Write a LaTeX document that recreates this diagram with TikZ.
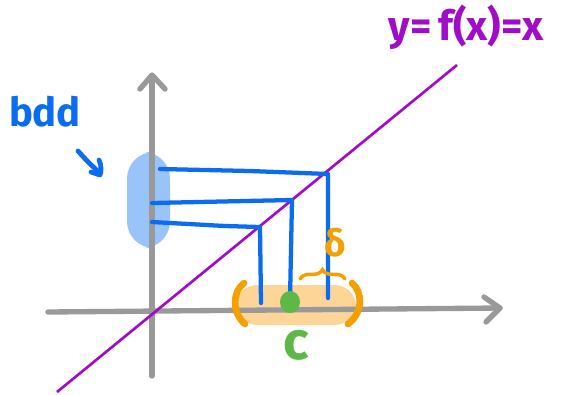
\documentclass[tikz,border=0pt]{standalone}
\usepackage{fontspec}
\setmainfont{Fira Sans}
\usetikzlibrary{decorations.pathreplacing}
\definecolor{axisgray}{HTML}{999999}
\definecolor{penblue}{HTML}{0A6CF0}
\definecolor{lightblue}{HTML}{99C4FA}
\definecolor{penpurple}{HTML}{A10CC8}
\definecolor{penorange}{HTML}{F5A000}
\definecolor{lightorange}{HTML}{FDD597}
\definecolor{pengreen}{HTML}{5DB848}
\tikzset{
  axisline/.style={axisgray, line width=4pt, line cap=round, line join=round},
  blueline/.style={penblue, line width=3.2pt, line cap=round, line join=round},
  lbl/.style={inner sep=0pt, font=\bfseries},
}
\begin{document}
\begin{tikzpicture}[x=0.75pt,y=-0.75pt]
\useasboundingbox (0,0) rectangle (567,394);
% shaded regions
\fill[lightblue, rounded corners=20] (127,152) rectangle (170,248);
\fill[lightorange, rounded corners=16] (236,285) rectangle (356,325);
% axes
\draw[axisline] (48,312) -- (500,308);
\draw[axisline] (484,297) -- (500,308) -- (486,322);
\draw[axisline] (152,376) -- (152,76);
\draw[axisline] (140,89) -- (152,75) -- (165,89);
% purple line y=x
\draw[penpurple, line width=2pt] (57,392) -- (457,65);
\node[lbl, text=penpurple, font=\fontsize{31}{31}\selectfont\bfseries] (flabel) at (466,27) {y=\,f(x)=x};
% blue lines
\draw[blueline] (160,169) -- (250,171) -- (328,174) -- (328,298);
\draw[blueline] (152,203) -- (292,200) -- (290,300);
\draw[blueline] (152,222) -- (225,226) -- (260,227) -- (261,303);
% bdd label and arrow
\node[lbl, text=penblue, font=\fontsize{30}{30}\selectfont\bfseries] (bdd) at (45,112) {bdd};
\draw[blueline, line width=3.6pt] (78,151) .. controls (86,160) and (92,166) .. (100,173);
\draw[blueline, line width=3.6pt] (99,160) .. controls (102,166) and (101,172) .. (100,175) -- (91,172);
% orange brackets
\draw[penorange, line width=5pt, line cap=round] (244,283) .. controls (232,292) and (232,313) .. (245,324);
\draw[penorange, line width=5pt, line cap=round] (352,283) .. controls (363,292) and (363,313) .. (348,324);
% delta and brace
\node[lbl, text=penorange, font=\fontsize{28}{28}\selectfont\bfseries] (delta) at (335,243) {δ};
\draw[penorange, line width=2.6pt, line cap=round, decorate, decoration={brace, amplitude=7pt}] (300,279) -- (345,279);
% green point and c
\fill[pengreen] (290,302) ellipse (10 and 11);
\node[lbl, text=pengreen, font=\fontsize{40}{40}\selectfont\bfseries] (clabel) at (296,345) {c};
\end{tikzpicture}
\end{document}
